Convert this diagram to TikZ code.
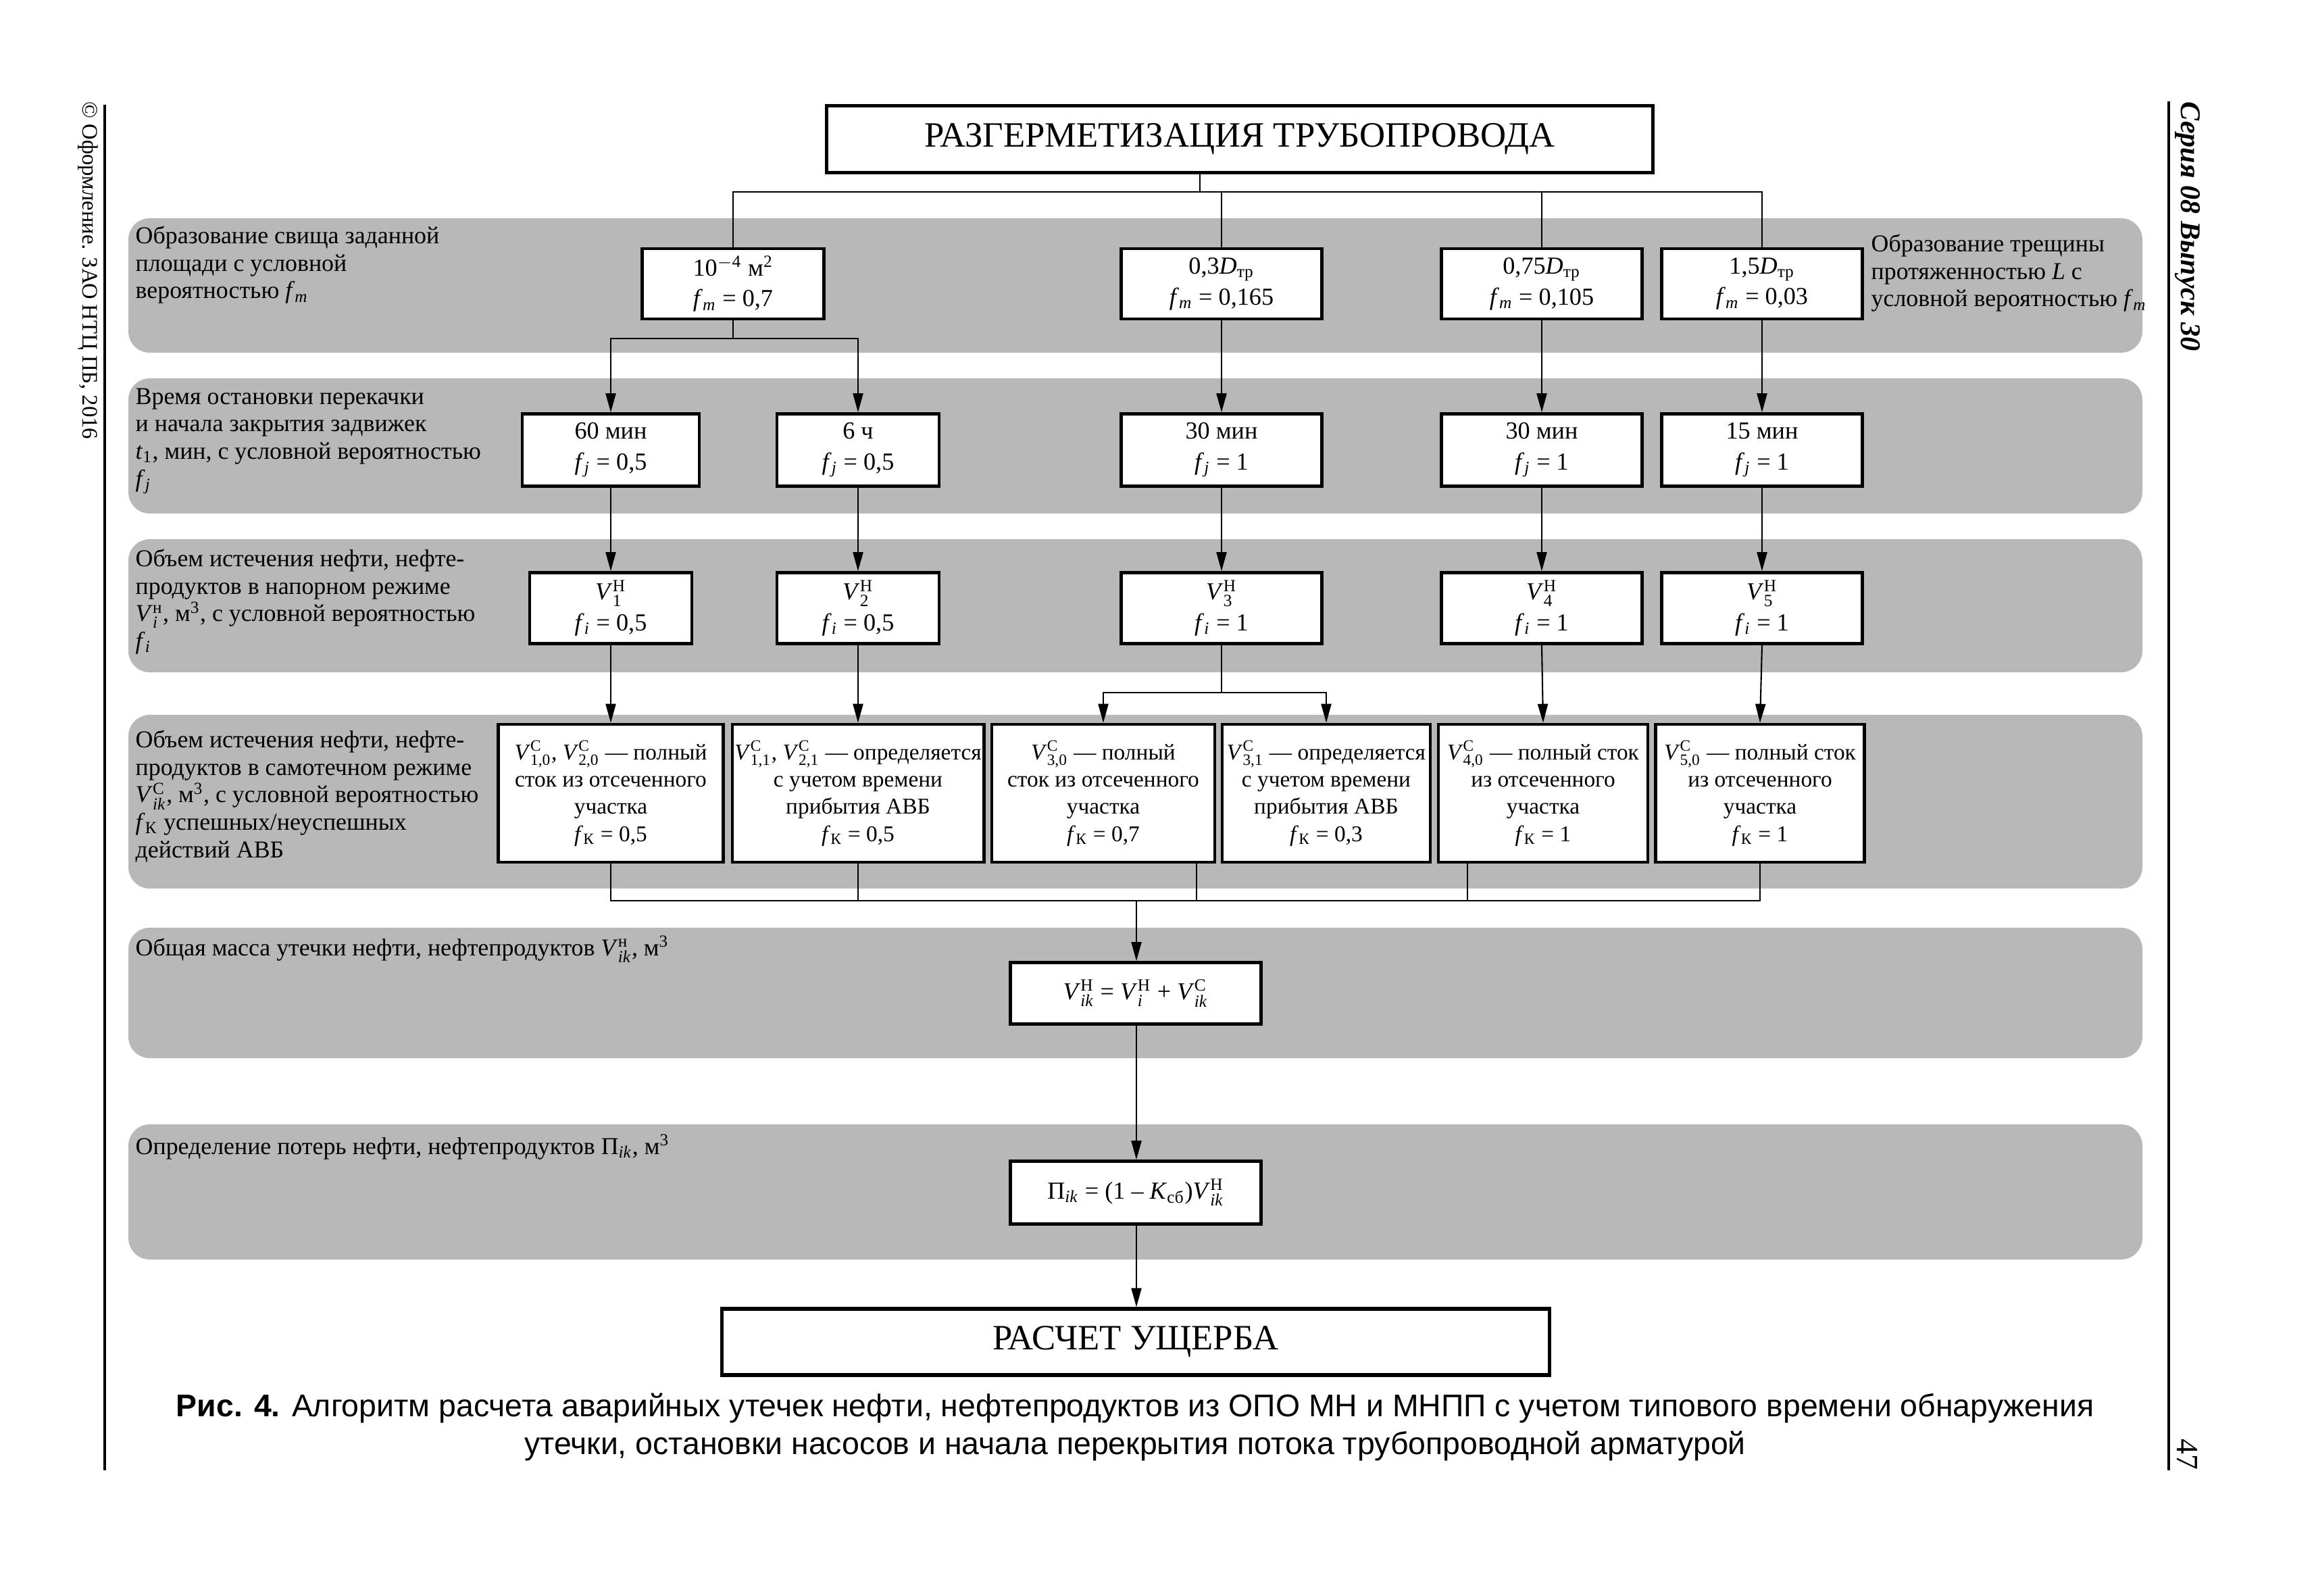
\documentclass[tikz,border=0pt]{standalone}
\usepackage{amsmath}
\usepackage{fontspec}
\setmainfont{Liberation Serif}
\newfontfamily\capfont{Liberation Sans}
\definecolor{BandGray}{gray}{0.72}
\usetikzlibrary{
  arrows.meta,
  positioning,
  calc
}
% symbols with upright scripts
\newcommand{\vsym}[2]{\textit{V}$^{\text{#1}}_{\text{#2}}$}
\newcommand{\fsym}[2]{\textit{#1}$_{\text{#2}}$}
\newcommand{\cub}{м$^{\text{3}}$}

\begin{document}
\begin{tikzpicture}[
  band/.style={
    fill=BandGray, draw=none,
    rounded corners=9pt
  },
  stage/.style={
    draw, line width=1.3pt, fill=white,
    align=center, inner sep=1pt,
    font=\fontsize{10.3}{13}\selectfont
  },
  head/.style={
    stage, line width=1.5pt,
    font=\fontsize{15}{17}\selectfont
  },
  outcome/.style={
    stage, minimum height=2.04cm,
    font=\fontsize{9.5}{11.4}\selectfont
  },
  note/.style={
    anchor=north west, align=left,
    inner sep=0pt,
    font=\fontsize{10.2}{11.6}\selectfont
  },
  link/.style={line width=0.6pt},
  arrow/.style={
    link, -{Triangle[length=2.8mm, width=1.5mm]}
  }
]
  \useasboundingbox (0,0) rectangle (34.25,-23.62);

  % Page margins
  \draw[line width=0.9pt] (1.55,-1.55) -- (1.55,-21.76);
  \draw[line width=0.9pt] (32.10,-1.50) -- (32.10,-21.76);
  \node[rotate=-90, anchor=west, inner sep=0pt,
    font=\fontsize{9.3}{11}\selectfont] (imprint)
    at (1.30,-1.50) {© Оформление. ЗАО НТЦ ПБ, 2016};
  \node[rotate=-90, anchor=west, inner sep=0pt,
    font=\bfseries\itshape\fontsize{12}{15}\selectfont] (series)
    at (32.38,-1.50) {Серия 08 Выпуск 30};
  \node[rotate=-90, anchor=east, inner sep=0pt,
    font=\fontsize{13}{15}\selectfont] (pageno)
    at (32.38,-21.76) {47};

  % Gray bands (top to bottom)
  \fill[band] (1.90,-3.23) rectangle (31.71,-5.22);
  \fill[band] (1.90,-5.60) rectangle (31.71,-7.60);
  \fill[band] (1.90,-7.98) rectangle (31.71,-9.95);
  \fill[band] (1.90,-10.58) rectangle (31.71,-13.15);
  \fill[band] (1.90,-13.73) rectangle (31.71,-15.66);
  \fill[band] (1.90,-16.64) rectangle (31.71,-18.64);

  % Band descriptions
  \node[note] (noteLeak) at (2.00,-3.34)
    {Образование свища заданной\\площади с условной\\вероятностью \fsym{f}{\textit{m}}};
  \node[note] (noteCrack) at (27.69,-3.46)
    {Образование трещины\\протяженностью \textit{L} с\\условной вероятностью \fsym{f}{\textit{m}}};
  \node[note] (noteStop) at (2.00,-5.74)
    {Время остановки перекачки\\и начала закрытия задвижек\\\fsym{t}{1}, мин, с условной вероятностью\\\fsym{f}{\textit{j}}};
  \node[note] (notePress) at (2.00,-8.12)
    {Объем истечения нефти, нефте-\\продуктов в напорном режиме\\\vsym{н}{\textit{i}}, \cub, с условной вероятностью\\\fsym{f}{\textit{i}}};
  \node[note] (noteFlow) at (2.00,-10.80)
    {Объем истечения нефти, нефте-\\продуктов в самотечном режиме\\\vsym{С}{\textit{ik}}, \cub, с условной вероятностью\\\fsym{f}{К} успешных/неуспешных\\действий АВБ};
  \node[note] (noteTotal) at (2.00,-13.84)
    {Общая масса утечки нефти, нефтепродуктов \vsym{н}{\textit{ik}}, \cub};
  \node[note] (noteLoss) at (2.00,-16.78)
    {Определение потерь нефти, нефтепродуктов П$_{\text{\textit{ik}}}$, \cub};

  % Head box
  \node[head, minimum width=12.23cm, minimum height=0.99cm] (title)
    at (18.35,-2.06) {РАЗГЕРМЕТИЗАЦИЯ ТРУБОПРОВОДА};

  % Leak size
  \node[stage, minimum width=2.69cm, minimum height=1.04cm] (leakA)
    at (10.85,-4.20) {10$^{-\text{4}}$ м$^{\text{2}}$\\\fsym{f}{\textit{m}} = 0,7};
  \node[stage, minimum width=2.97cm, minimum height=1.04cm] (leakC)
    at (18.08,-4.20) {0,3\fsym{D}{тр}\\\fsym{f}{\textit{m}} = 0,165};
  \node[stage, minimum width=2.97cm, minimum height=1.04cm] (leakD)
    at (22.82,-4.20) {0,75\fsym{D}{тр}\\\fsym{f}{\textit{m}} = 0,105};
  \node[stage, minimum width=2.97cm, minimum height=1.04cm] (leakE)
    at (26.08,-4.20) {1,5\fsym{D}{тр}\\\fsym{f}{\textit{m}} = 0,03};

  % Stop time
  \node[stage, minimum width=2.62cm, minimum height=1.07cm] (stopA)
    at (9.04,-6.66) {60 мин\\\fsym{f}{\textit{j}} = 0,5};
  \node[stage, minimum width=2.40cm, minimum height=1.07cm] (stopB)
    at (12.70,-6.66) {6 ч\\\fsym{f}{\textit{j}} = 0,5};
  \node[stage, minimum width=2.97cm, minimum height=1.07cm] (stopC)
    at (18.08,-6.66) {30 мин\\\fsym{f}{\textit{j}} = 1};
  \node[stage, minimum width=2.97cm, minimum height=1.07cm] (stopD)
    at (22.82,-6.66) {30 мин\\\fsym{f}{\textit{j}} = 1};
  \node[stage, minimum width=2.97cm, minimum height=1.07cm] (stopE)
    at (26.08,-6.66) {15 мин\\\fsym{f}{\textit{j}} = 1};

  % Pressure outflow
  \node[stage, minimum width=2.40cm, minimum height=1.05cm] (pressA)
    at (9.04,-9.00) {\vsym{Н}{1}\\\fsym{f}{\textit{i}} = 0,5};
  \node[stage, minimum width=2.40cm, minimum height=1.05cm] (pressB)
    at (12.70,-9.00) {\vsym{Н}{2}\\\fsym{f}{\textit{i}} = 0,5};
  \node[stage, minimum width=2.97cm, minimum height=1.05cm] (pressC)
    at (18.08,-9.00) {\vsym{Н}{3}\\\fsym{f}{\textit{i}} = 1};
  \node[stage, minimum width=2.97cm, minimum height=1.05cm] (pressD)
    at (22.82,-9.00) {\vsym{Н}{4}\\\fsym{f}{\textit{i}} = 1};
  \node[stage, minimum width=2.97cm, minimum height=1.05cm] (pressE)
    at (26.08,-9.00) {\vsym{Н}{5}\\\fsym{f}{\textit{i}} = 1};

  % Gravity outflow
  \node[outcome, minimum width=3.33cm] (flowA) at (9.04,-11.74)
    {\vsym{С}{1,0}, \vsym{С}{2,0} — полный\\сток из отсеченного\\участка\\\fsym{f}{К} = 0,5};
  \node[outcome, minimum width=3.70cm] (flowB) at (12.70,-11.74)
    {\vsym{С}{1,1}, \vsym{С}{2,1} — определяется\\с учетом времени\\прибытия АВБ\\\fsym{f}{К} = 0,5};
  \node[outcome, minimum width=3.30cm] (flowC) at (16.33,-11.74)
    {\vsym{С}{3,0} — полный\\сток из отсеченного\\участка\\\fsym{f}{К} = 0,7};
  \node[outcome, minimum width=3.08cm] (flowD) at (19.63,-11.74)
    {\vsym{С}{3,1} — определяется\\с учетом времени\\прибытия АВБ\\\fsym{f}{К} = 0,3};
  \node[outcome, minimum width=3.10cm] (flowE) at (22.84,-11.74)
    {\vsym{С}{4,0} — полный сток\\из отсеченного\\участка\\\fsym{f}{К} = 1};
  \node[outcome, minimum width=3.09cm] (flowF) at (26.05,-11.74)
    {\vsym{С}{5,0} — полный сток\\из отсеченного\\участка\\\fsym{f}{К} = 1};

  % Totals and result
  \node[stage, minimum width=3.71cm, minimum height=0.91cm] (total)
    at (16.81,-14.70) {\vsym{Н}{\textit{ik}} = \vsym{Н}{\textit{i}} + \vsym{С}{\textit{ik}}};
  \node[stage, minimum width=3.71cm, minimum height=0.93cm] (loss)
    at (16.81,-17.65) {П$_{\text{\textit{ik}}}$ = (1 – \fsym{K}{сб})\vsym{Н}{\textit{ik}}};
  \node[head, minimum width=12.25cm, minimum height=0.98cm] (damage)
    at (16.81,-19.86) {РАСЧЕТ УЩЕРБА};

  % Connectors
  \coordinate (topsplit) at (17.76,-2.84);
  \draw[link] (title.south -| topsplit) -- (topsplit);
  \draw[link] (leakA.north) |- (topsplit)
    -| (leakE.north);
  \draw[link] (leakC.north) -- (leakC.north |- topsplit);
  \draw[link] (leakD.north) -- (leakD.north |- topsplit);

  \coordinate (splitA) at (10.85,-5.01);
  \draw[link] (leakA.south) -- (splitA);
  \draw[arrow] (splitA) -| (stopA.north);
  \draw[arrow] (splitA) -| (stopB.north);
  \draw[arrow] (leakC.south) -- (stopC.north);
  \draw[arrow] (leakD.south) -- (stopD.north);
  \draw[arrow] (leakE.south) -- (stopE.north);

  \draw[arrow] (stopA.south) -- (pressA.north);
  \draw[arrow] (stopB.south) -- (pressB.north);
  \draw[arrow] (stopC.south) -- (pressC.north);
  \draw[arrow] (stopD.south) -- (pressD.north);
  \draw[arrow] (stopE.south) -- (pressE.north);

  \coordinate (splitC) at (18.08,-10.25);
  \draw[arrow] (pressA.south) -- (flowA.north);
  \draw[arrow] (pressB.south) -- (flowB.north);
  \draw[link] (pressC.south) -- (splitC);
  \draw[arrow] (splitC) -| (flowC.north);
  \draw[arrow] (splitC) -| (flowD.north);
  \draw[arrow] (pressD.south) -- (flowE.north);
  \draw[arrow] (pressE.south) -- (flowF.north);

  \coordinate (merge) at (16.82,-13.33);
  \coordinate (stubC) at (17.71,-13.33);
  \coordinate (stubE) at (21.72,-13.33);
  \draw[link] (flowA.south) |- (merge);
  \draw[link] (flowF.south) |- (merge);
  \draw[link] (flowB.south) -- (flowB.south |- merge);
  \draw[link] (stubC |- flowC.south) -- (stubC);
  \draw[link] (stubE |- flowE.south) -- (stubE);
  \draw[arrow] (merge) -- (merge |- total.north);
  \draw[arrow] (total.south -| merge) -- (loss.north -| merge);
  \draw[arrow] (loss.south -| merge) -- (damage.north -| merge);

  % Caption
  \node[align=center, inner sep=0pt,
    font=\capfont\fontsize{13.2}{15.8}\selectfont] (caption)
    at (16.80,-21.12)
    {\textbf{Рис. 4.} Алгоритм расчета аварийных утечек нефти, нефтепродуктов из ОПО МН и МНПП с учетом типового времени обнаружения\\
     утечки, остановки насосов и начала перекрытия потока трубопроводной арматурой};
\end{tikzpicture}
\end{document}
